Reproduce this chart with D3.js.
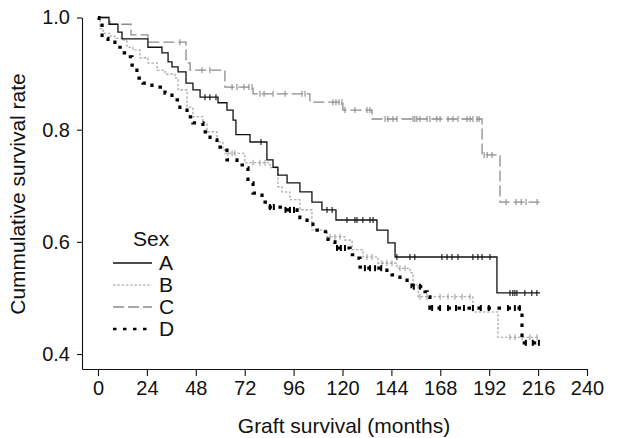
<!DOCTYPE html>
<html><head><meta charset="utf-8">
<script src="https://cdn.jsdelivr.net/npm/d3@7"></script>
<style>body{margin:0;background:#fff}svg{display:block}text{font-family:"Liberation Sans",Arial,sans-serif;fill:#111}</style>
</head><body><svg id="c" width="622" height="438"></svg>
<script>
const groups = ["A","B","C","D"];
const xTicks = [0,24,48,72,96,120,144,168,192,216,240];
const yTicks = [0.4,0.6,0.8,1.0];

const timesA = [0,5.4,9.8,11.8,24.5,31.4,34.4,36.3,39.3,43.2,46.6,50.1,58.9,63.3,66.3,67.7,74.6,82.9,85.9,88.3,92.8,99.1,105.0,109.9,116.8,136.9,142.3,145.8,195.8,216.9];
const survA  = [1.0,0.988,0.974,0.962,0.947,0.937,0.921,0.912,0.903,0.883,0.871,0.858,0.848,0.835,0.817,0.791,0.778,0.746,0.733,0.719,0.705,0.689,0.671,0.657,0.639,0.621,0.598,0.573,0.509,0.509];
const censorA = [52.5,54.9,57.9,80.0,112.4,114.9,122.2,126.1,127.1,130.0,133.5,135.0,146.7,153.1,155.5,168.8,171.3,173.7,176.7,184.0,186.5,188.5,192.4,202.2,203.6,204.6,205.6,209.5,212.9,215.4];

const timesB = [0,1.0,2.5,5.9,8.3,12.3,14.2,17.2,20.6,24.5,29.0,32.9,37.8,39.3,43.7,46.6,51.5,53.5,58.4,61.3,62.3,72.1,84.4,88.3,90.3,94.2,99.1,105.0,112.4,121.2,124.7,130.1,137.4,146.7,153.1,154.6,157.1,184.0,196.3,215.9];
const survB  = [1.0,0.980,0.972,0.967,0.963,0.960,0.947,0.942,0.928,0.919,0.906,0.899,0.892,0.871,0.840,0.823,0.812,0.796,0.778,0.764,0.758,0.741,0.732,0.698,0.689,0.675,0.657,0.621,0.609,0.603,0.586,0.573,0.562,0.553,0.545,0.523,0.502,0.475,0.430,0.430];
const censorB = [63.8,65.8,67.2,76.1,79.5,82.0,113.9,116.3,118.8,132.0,134.5,139.4,141.8,144.3,148.2,150.7,158.0,161.5,167.9,171.8,175.2,178.7,182.6,202.2,204.7,208.1,212.0,215.5];

const timesC = [0,5.9,16.2,24.5,43.2,45.2,62.3,76.1,104.0,120.2,134.5,188.5,197.3,216.9];
const survC  = [1.0,0.988,0.969,0.956,0.919,0.906,0.876,0.864,0.849,0.835,0.819,0.755,0.671,0.671];
const censorC = [40.2,51.0,54.9,65.8,68.2,71.6,74.1,75.6,79.5,81.5,85.9,91.8,100.1,101.6,115.3,116.8,118.3,119.7,121.2,126.1,132.0,133.5,140.9,142.3,144.8,146.7,154.6,155.5,156.5,158.0,161.5,162.9,166.3,167.9,171.8,174.2,176.7,181.1,182.6,184.0,186.0,187.0,189.5,191.0,193.4,200.3,205.2,207.7,210.1,215.5];

const timesD = [0,0.5,2.0,4.9,8.3,11.8,14.2,16.7,19.1,22.1,26.5,32.9,36.3,40.2,43.7,46.6,51.5,55.0,58.4,63.3,68.2,73.1,73.6,76.1,80.5,83.4,90.8,97.7,99.1,102.6,105.5,110.4,112.9,116.3,123.7,127.1,128.6,130.1,141.8,144.3,148.2,151.7,154.1,160.5,161.5,162.9,208.1,217.9];
const survD  = [1.0,0.992,0.963,0.956,0.947,0.937,0.930,0.915,0.892,0.883,0.876,0.865,0.853,0.835,0.823,0.812,0.796,0.782,0.769,0.746,0.737,0.732,0.705,0.687,0.671,0.662,0.657,0.653,0.643,0.635,0.621,0.618,0.600,0.589,0.577,0.571,0.555,0.553,0.545,0.541,0.532,0.527,0.520,0.511,0.502,0.482,0.420,0.420];
const censorD = [84.4,86.3,92.0,94.2,96.2,117.3,119.2,121.2,131.0,133.5,136.0,139.0,155.0,158.0,164.0,167.9,171.8,175.7,179.6,184.0,187.9,191.8,201.2,204.6,207.0,210.0,213.4,216.4];

const series = [
  {name:"A", t:timesA, s:survA, c:censorA, color:"#111", width:1.3, dash:null, cw:1.1},
  {name:"B", t:timesB, s:survB, c:censorB, color:"#9a9a9a", width:1.1, dash:"2.5,1.8", cw:1},
  {name:"C", t:timesC, s:survC, c:censorC, color:"#8c8c8c", width:1.3, dash:"11,4", cw:1.1},
  {name:"D", t:timesD, s:survD, c:censorD, color:"#000", width:3.2, dash:"3.5,6.5", cw:2}
];

const svg = d3.select("#c");
const x = d3.scaleLinear().domain([-7.85,240]).range([82,587]);
const y = d3.scaleLinear().domain([0.3733,1.0]).range([369,17.5]);

const gx = svg.append("g").attr("transform","translate(0,369)")
  .call(d3.axisBottom(x).tickValues(xTicks).tickSize(7).tickSizeOuter(0).tickPadding(5).tickFormat(d3.format("d")));
const gy = svg.append("g").attr("transform","translate(82,0)")
  .call(d3.axisLeft(y).tickValues(yTicks).tickSize(5).tickSizeOuter(0).tickPadding(7).tickFormat(d3.format(".1f")));
[gx,gy].forEach(g=>{
  g.selectAll("path,line").attr("stroke","#111").attr("stroke-width",1.1);
  g.selectAll("text").style("font-size","20px").attr("fill","#111");
});

svg.append("text").attr("x",344).attr("y",433).attr("text-anchor","middle").style("font-size","21px").text("Graft survival (months)");
svg.append("text").attr("transform","translate(25,194) rotate(-90)").attr("text-anchor","middle").style("font-size","21px").text("Cummulative survival rate");

function survAt(ser,t){
  let v = ser.s[0];
  for(let i=0;i<ser.t.length;i++){ if(ser.t[i]<=t) v=ser.s[i]; }
  return v;
}
const line = d3.line().x(d=>x(d[0])).y(d=>y(d[1])).curve(d3.curveStepAfter);

const order = ["C","B","A","D"];
order.forEach(nm=>{
  const ser = series.find(d=>d.name===nm);
  const pts = ser.t.map((t,i)=>[t,ser.s[i]]);
  svg.append("path").attr("d",line(pts)).attr("fill","none")
    .attr("stroke",ser.color).attr("stroke-width",ser.width)
    .attr("stroke-dasharray",ser.dash);
  svg.append("g").selectAll("line").data(ser.c).join("line")
    .attr("x1",d=>x(d)).attr("x2",d=>x(d))
    .attr("y1",d=>y(survAt(ser,d))-3).attr("y2",d=>y(survAt(ser,d))+3)
    .attr("stroke",ser.color).attr("stroke-width",ser.cw);
});

// legend
const lg = svg.append("g");
lg.append("text").attr("x",133).attr("y",246).style("font-size","21px").text("Sex");
series.forEach((ser,i)=>{
  const yy = 263 + i*22;
  lg.append("line").attr("x1",113).attr("x2",152).attr("y1",yy).attr("y2",yy)
    .attr("stroke",ser.color).attr("stroke-width",ser.name==="D"?2.5:ser.width).attr("stroke-dasharray",ser.dash);
  lg.append("text").attr("x",159).attr("y",yy+7).style("font-size","21px").text(ser.name);
});
</script></body></html>
